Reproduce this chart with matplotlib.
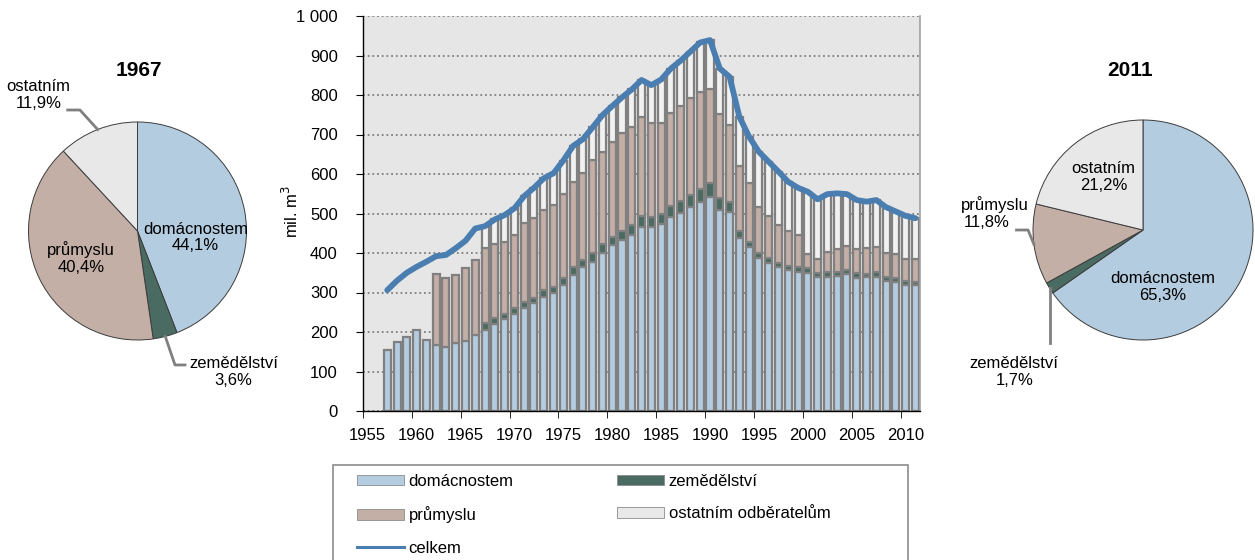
"""
spotřeba vody z vodovodů pro veřejnou potřebu 1957-2011
sloupce : domácnosti / zemědělství / průmysl / ostatní, čára : celkem
koláče : struktura 1967 a 2011
výstup : out.png
"""

import numpy as np
import matplotlib.pyplot as plt
from matplotlib.patches import Patch, Rectangle
from matplotlib.lines import Line2D
from matplotlib.ticker import FuncFormatter

plt.rcParams["font.family"] = ["Liberation Sans", "DejaVu Sans"]

# -----------------------------------------------------------------------
# data (mil. m3)
# -----------------------------------------------------------------------
years = list(range(1957, 2012))

domacnostem = [154, 174, 188, 204, 181, 167, 163, 171, 177, 192,
               206, 219, 232, 246, 262, 273, 289, 300, 319, 344,
               364, 378, 399, 419, 433, 446, 467, 465, 473, 492,
               502, 517, 530, 543, 509, 505, 437, 414, 388, 374,
               364, 357, 352, 349, 338, 340, 342, 346, 337, 338,
               340, 330, 326, 319, 319]
zemedelstvi = [0, 0, 0, 0, 0, 0, 0, 0, 0, 0,
               17, 16, 14, 14, 13, 14, 17, 15, 17, 21,
               18, 21, 24, 22, 23, 25, 27, 27, 26, 27,
               30, 30, 31, 33, 29, 25, 19, 15, 11, 13,
               10, 11, 12, 12, 11, 11, 11, 11, 12, 9,
               11, 10, 10, 9, 8]
prumyslu = [0, 0, 0, 0, 0, 180, 173, 173, 184, 190,
            189, 189, 183, 186, 200, 201, 203, 207, 213, 215,
            220, 236, 233, 241, 249, 249, 251, 238, 231, 235,
            241, 245, 247, 239, 213, 194, 164, 147, 117, 107,
            97, 88, 82, 36, 35, 52, 56, 61, 60, 66,
            65, 61, 61, 57, 58]
ostatnim = [0, 0, 0, 0, 0, 0, 0, 0, 0, 0,
            56, 61, 67, 67, 69, 77, 80, 80, 85, 91,
            86, 83, 93, 90, 89, 94, 93, 95, 109, 113,
            114, 118, 125, 124, 116, 122, 125, 118, 140, 137,
            135, 124, 119, 158, 152, 146, 142, 131, 125, 117,
            118, 115, 108, 109, 103]
celkem = [306, 330, 350, 365, 378, 392, 395, 412, 431, 462,
          468, 485, 496, 513, 544, 565, 589, 602, 634, 671,
          688, 718, 749, 772, 794, 814, 838, 825, 839, 867,
          887, 910, 933, 939, 867, 846, 745, 694, 656, 631,
          606, 580, 565, 555, 536, 549, 551, 549, 534, 530,
          534, 516, 505, 494, 488]

pie_names = ["domácnostem", "zemědělství", "průmyslu", "ostatním"]
pie_1967 = [44.1, 3.6, 40.4, 11.9]
pie_2011 = [65.3, 1.7, 11.8, 21.2]

# couleurs
C_DOM = "#b3cce0"
C_ZEM = "#4a6b62"
C_PRUM = "#c3afa6"
C_OST = "#f1f1f1"
C_OST_PIE = "#e8e8e8"
C_LINE = "#4a7eb0"
C_EDGE = "#808080"

W, H = 1255, 560
fig = plt.figure(figsize=(W / 100, H / 100), dpi=100, facecolor="white")

# -----------------------------------------------------------------------
# graphe principal
# -----------------------------------------------------------------------
ax = fig.add_axes([362.8 / W, 1 - 411 / H, 557.5 / W, 395 / H])
ax.set_facecolor("#e6e6e6")

x = np.array(years)
bottom = np.zeros(len(years))
for vals, col in [(domacnostem, C_DOM), (zemedelstvi, C_ZEM),
                  (prumyslu, C_PRUM), (ostatnim, C_OST)]:
    v = np.array(vals, dtype=float)
    m = v > 0
    ax.bar(x[m], v[m], bottom=bottom[m], width=0.72, color=col,
           edgecolor=C_EDGE, linewidth=1.6, zorder=2)
    bottom += v

ax.plot(years, celkem, color=C_LINE, lw=4.2, solid_joinstyle="round",
        solid_capstyle="round", zorder=3)

ax.set_xlim(1954.5, 2011.5)
ax.set_ylim(0, 1000)
ax.set_yticks(range(0, 1001, 100))
ax.yaxis.set_major_formatter(FuncFormatter(lambda v, p: f"{int(v):,}".replace(",", " ")))
ax.set_xticks(range(1955, 2011, 5))
ax.set_xticks(np.arange(1954.5, 2010, 5), minor=True)
ax.tick_params(axis="x", which="major", length=0, pad=12, labelsize=12)
ax.tick_params(axis="x", which="minor", length=5, direction="out", color="black")
ax.tick_params(axis="y", length=5, direction="out", pad=13, labelsize=12)

ax.yaxis.grid(True, linestyle=(0, (1, 1.6)), color="#7f7f7f", linewidth=1.3)
ax.set_axisbelow(True)
ax.spines["top"].set_visible(False)
ax.spines["right"].set_color("#a0a0a0")
ax.spines["right"].set_linewidth(1.2)
ax.spines["left"].set_linewidth(1.0)
ax.spines["bottom"].set_linewidth(1.0)

ax.set_ylabel("mil. m$^3$", fontsize=12)
ax.yaxis.set_label_coords(-0.111, 0.504)

# légende (cadre coupé en bas comme l'original)
handles = [
    Patch(fc=C_DOM, ec="#8c8c8c", lw=0.6, label="domácnostem"),
    Patch(fc=C_PRUM, ec="#8c8c8c", lw=0.6, label="průmyslu"),
    Line2D([], [], color=C_LINE, lw=2.2, label="celkem"),
    Patch(fc=C_ZEM, ec="#8c8c8c", lw=0.6, label="zemědělství"),
    Patch(fc="#e9e9e9", ec="#8c8c8c", lw=0.6, label="ostatním odběratelům"),
]
fig.legend(handles=handles, loc="upper left", bbox_to_anchor=(357 / W, 1 - 474 / H),
           ncol=2, frameon=False, fontsize=12, handlelength=2.8, handleheight=0.6,
           handletextpad=0.3, columnspacing=6.2, labelspacing=1.05,
           borderpad=0, borderaxespad=0)
fig.add_artist(Rectangle((333 / W, -0.05), (908 - 333) / W, 1 - 465 / H + 0.05,
                         transform=fig.transFigure, fill=False, ec="#8c8c8c", lw=1.2))

# -----------------------------------------------------------------------
# koláče
# -----------------------------------------------------------------------
pie_colors = [C_DOM, C_ZEM, C_PRUM, C_OST_PIE]


def pct(v):
    return f"{v:.1f}%".replace(".", ",")


def mid_point(vals, i, r=1.0):
    cum = sum(vals[:i]) + vals[i] / 2
    a = np.deg2rad(90 - 360 * cum / sum(vals))
    return r * np.cos(a), r * np.sin(a)


def make_pie(cx, cy, r, vals, title, title_x):
    pa = fig.add_axes([(cx - r) / W, 1 - (cy + r) / H, 2 * r / W, 2 * r / H])
    pa.pie(vals, colors=pie_colors, startangle=90, counterclock=False,
           wedgeprops=dict(edgecolor="#3c3c3c", linewidth=0.7))
    pa.set_xlim(-1, 1)
    pa.set_ylim(-1, 1)
    pa.set_aspect("equal")
    fig.text(title_x / W, 1 - 70 / H, title, ha="center", va="center",
             fontsize=15, fontweight="bold")
    return pa


def leader(pa, pts):
    xs, ys = zip(*pts)
    pa.plot(xs, ys, color="#808080", lw=2, clip_on=False, zorder=5)


# 1967
pa = make_pie(137.5, 231, 109, pie_1967, "1967", 139)
pa.text(0.53, -0.06, f"{pie_names[0]}\n{pct(pie_1967[0])}", ha="center", va="center",
        fontsize=12, linespacing=1.15)
pa.text(-0.52, -0.25, f"{pie_names[2]}\n{pct(pie_1967[2])}", ha="center", va="center",
        fontsize=12, linespacing=1.15)
pa.text(-0.91, 1.25, f"{pie_names[3]}\n{pct(pie_1967[3])}", ha="center", va="center",
        fontsize=12, linespacing=1.15)
pa.text(0.88, -1.29, f"{pie_names[1]}\n{pct(pie_1967[1])}", ha="center", va="center",
        fontsize=12, linespacing=1.15)
leader(pa, [mid_point(pie_1967, 3), (-0.528, 1.11), (-0.64, 1.11)])
leader(pa, [mid_point(pie_1967, 1), (0.344, -1.229), (0.436, -1.229)])

# 2011
pa = make_pie(1143, 230, 110, pie_2011, "2011", 1130)
pa.text(-0.36, 0.48, f"{pie_names[3]}\n{pct(pie_2011[3])}", ha="center", va="center",
        fontsize=12, linespacing=1.15)
pa.text(0.18, -0.52, f"{pie_names[0]}\n{pct(pie_2011[0])}", ha="center", va="center",
        fontsize=12, linespacing=1.15)
pa.text(-1.04, 0.23, pie_names[2], ha="right", va="center", fontsize=12)
pa.text(-1.21, 0.065, pct(pie_2011[2]), ha="right", va="center", fontsize=12)
pa.text(-1.17, -1.29, f"{pie_names[1]}\n{pct(pie_2011[1])}", ha="center", va="center",
        fontsize=12, linespacing=1.15)
leader(pa, [mid_point(pie_2011, 2), (-1.045, 0.0), (-1.15, 0.0)])
p = mid_point(pie_2011, 1)
leader(pa, [p, (p[0], -1.03)])

fig.savefig("out.png", dpi=100, facecolor="white")
